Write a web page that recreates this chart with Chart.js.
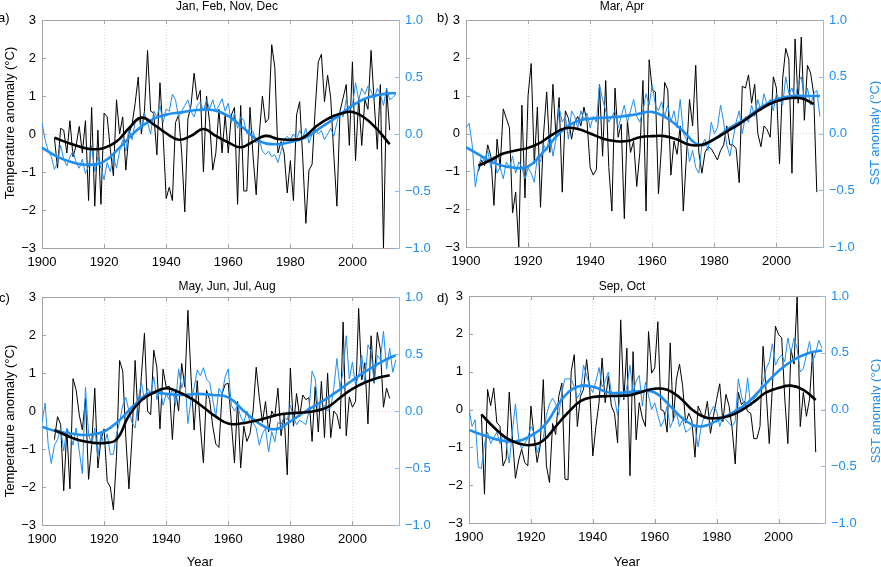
<!DOCTYPE html>
<html lang="en">
<head>
<meta charset="UTF-8">
<title>Temperature and SST anomalies</title>
<script src="https://cdn.jsdelivr.net/npm/chart.js"></script>
<style>
  body { margin: 0; background: #fff; }
  #page { position: relative; width: 881px; height: 567px; overflow: hidden;
          font-family: 'Liberation Sans', Arial, sans-serif; color: #000; }
  canvas { position: absolute; }
  .txt { position: absolute; white-space: nowrap; line-height: 15px; }
  .title { font-size: 12px; transform: translateX(-50%); }
  .letter { font-size: 13px; }
  .ytitle { font-size: 13px; transform: translate(-50%, -50%) rotate(-90deg); }
  .sst { color: #1e8ef0; }
  .xtitle { font-size: 13px; transform: translateX(-50%); }
</style>
</head>
<body>
<div id="page">
  <canvas id="chartA" width="440" height="283" style="left:0;top:0"></canvas>
  <canvas id="chartB" width="441" height="283" style="left:440px;top:0"></canvas>
  <canvas id="chartC" width="440" height="287" style="left:0;top:280px"></canvas>
  <canvas id="chartD" width="441" height="287" style="left:440px;top:280px"></canvas>

  <div class="txt title" style="left:227px;top:-1px">Jan, Feb, Nov, Dec</div>
  <div class="txt title" style="left:622px;top:-1px">Mar, Apr</div>
  <div class="txt title" style="left:227px;top:279px">May, Jun, Jul, Aug</div>
  <div class="txt title" style="left:622px;top:279px">Sep, Oct</div>

  <div class="txt letter" style="left:-2px;top:10px">a)</div>
  <div class="txt letter" style="left:437px;top:10px">b)</div>
  <div class="txt letter" style="left:-1px;top:290px">c)</div>
  <div class="txt letter" style="left:437px;top:290px">d)</div>

  <div class="txt ytitle" style="left:9px;top:123px">Temperature anomaly (°C)</div>
  <div class="txt ytitle" style="left:9px;top:421px">Temperature anomaly (°C)</div>
  <div class="txt ytitle sst" style="left:874px;top:133px">SST anomaly (°C)</div>
  <div class="txt ytitle sst" style="left:875px;top:411px">SST anomaly (°C)</div>

  <div class="txt xtitle" style="left:200px;top:554px">Year</div>
  <div class="txt xtitle" style="left:627px;top:554px">Year</div>
</div>

<script>
// ---- data ----
// air temperature anomaly (°C), one value per year starting 1904
const tempStart = 1904;
const tempA = [
  -0.1, -0.9, 0.15, 0.1, -0.5, 0.35, -0.6, -0.3, 0.2, -0.5,
  0.35, -1.75, 0.7, -1.9, 0.1, -1.85, 0.55, 0.45, -0.4, -1.1,
  0.9, 0.0, 0.45, -0.95, 0.0, 0.25, 0.8, 1.5, 0.0, 0.6,
  2.2, 0.6, 0.55, -0.55, 1.35, 0.0, -1.7, -1.4, -1.75, 0.3,
  0.5, -0.5, -2.05, 0.4, 0.75, 1.6, 0.9, 1.15, -1.0, 1.0,
  0.3, -0.95, -0.5, 0.65, -0.5, 0.5, -0.5, 0.5, 0.7, -1.85,
  0.75, -1.5, -1.5, 0.7, -0.6, -1.6, 0.0, 1.0, 0.3, 0.4,
  2.35, 1.75, -0.5, -0.2, -0.5, -1.55, -0.7, -1.75, 0.5, 0.85,
  -0.65, -2.35, -0.95, -0.8, 0.65, 1.9, 2.1, 0.85, 1.55, 0.95,
  -0.55, -1.9, 0.6, 0.95, 1.3, -0.3, 1.9, -0.7, 0.95, -0.3,
  0.9, 0.65, 2.2, 0.85, -0.4, 1.3, -3.0, 1.2, 0.1
];
const tempB = [
  -1.0, -0.7, -0.85, -0.3, -0.6, -1.9, -0.15, -0.9, 0.65, 0.4,
  0.15, -2.1, -1.55, -3.0, 0.75, -1.7, 1.0, 1.85, -0.8, 0.7,
  -1.95, 0.0, 1.1, -0.5, 1.3, -0.1, 0.95, -1.55, 0.6, 0.4,
  -0.15, 0.3, 0.45, 0.2, 0.7, 0.3, -0.9, -1.1, -0.95, 1.3,
  -0.6, 1.4, -0.9, -2.05, 1.2, -0.1, 0.25, -2.25, 0.35, -0.5,
  -0.2, -1.4, -0.5, 1.4, -2.05, 1.95, 1.15, 1.1, -1.6, -0.3,
  1.35, 1.15, -1.1, -0.2, -0.55, 0.2, -2.05, -0.6, 0.9, 0.2,
  1.8, -0.5, -1.05, -0.5, -0.35, -0.4, -0.55, -0.7, -0.45, -0.3,
  0.2, -0.3, -0.3, -0.4, -1.3, 1.25, 1.2, 1.55, 0.8, 1.3,
  0.0, -0.35, 0.2, 0.1, -0.1, 1.5, 1.2, -0.8, 1.45, 2.25,
  1.95, -1.05, 2.5, 0.8, 2.55, 0.35, 1.8, 1.6, 1.05, -1.55
];
const tempC = [
  -0.75, -0.15, -0.35, -2.1, -0.5, -2.05, 0.85, 0.55, -0.1, -0.5,
  0.33, -1.8, -0.9, 0.6, -1.5, -0.75, -0.47, -1.85, -2.0, -2.6,
  -1.2, 1.33, 1.05, -0.7, -2.05, -0.7, 1.33, -0.25, 0.9, 2.05,
  0.0, -0.1, 1.6, 1.15, -0.47, 1.1, 0.63, 0.65, -0.75, 0.55,
  0.0, 1.25, 0.63, 2.65, 0.9, -0.5, 0.8, -0.4, -1.37, 0.55,
  0.3, -0.4, -0.87, -0.96, 0.45, 0.7, 0.73, -0.3, -1.37, 0.25,
  -1.5, -0.4, -0.8, -0.6, 0.0, 1.15, 0.35, -0.3, 0.25, -0.55,
  0.0, -0.15, 0.6, -0.65, -0.1, -1.68, 1.13, -0.4, 0.46, -0.15,
  0.42, 0.3, 0.35, -0.8, 0.64, -0.55, 0.78, -0.7, 1.0, -0.7,
  0.0, -0.1, -0.47, 2.34, -0.65, 0.37, 0.1, 0.25, 2.7, 0.82,
  1.27, -0.34, 1.98, 0.73, 2.07, 1.62, 0.1, 0.6, 0.33
];
const tempD = [
  -0.13, -2.24, 0.53, 0.1, 0.57, -0.35, -0.44, -1.49, -1.3, 0.46,
  -0.7, -1.82, -1.36, -1.05, -1.4, -1.49, 0.09, -0.7, -1.4, -0.96,
  0.79, -1.49, -1.93, -0.37, -0.66, 0.35, 0.7, -1.84, -1.86, 1.0,
  1.45, -0.45, 0.35, 0.53, 1.32, 0.53, -1.23, -0.45, 0.18, 1.36,
  0.18, 0.88, 0.09, -0.1, -0.88, 2.37, 0.26, 1.62, -1.75, 1.53,
  -0.8, 0.18, -0.22, -0.45, 2.06, 0.96, 1.1, 2.32, 0.0, -0.05,
  -0.6, 1.76, -0.3, 0.8, 1.2, 0.63, -0.36, -0.1, -0.3, -1.26,
  0.09, -0.1, -0.25, 0.22, -0.63, -0.15, 0.27, 0.68, -0.32, 0.4,
  0.1, -0.5, -1.44, 0.45, 0.13, 0.22, -0.05, -0.1, -0.77, -0.77,
  -0.45, 1.67, 0.45, -0.9, 0.6, 2.2, 1.98, 1.9, 0.3, -0.9,
  1.6, 1.2, 3.0, -0.45, 0.45, -0.18, 0.27, 1.53, -1.13
];

// sea surface temperature anomaly (°C), one value per year starting 1900
const sstStart = 1900;
const sstA = [
  0.1, -0.05, -0.15, -0.2, -0.31, -0.25, -0.1, -0.22, -0.28, -0.2,
  -0.15, -0.25, -0.3, -0.22, -0.35, -0.28, -0.1, -0.33, -0.2, -0.3,
  -0.4, -0.25, -0.33, -0.2, -0.3, -0.15, -0.05, -0.15, 0.05, -0.05,
  0.1, 0.15, 0.05, 0.18, 0.1, 0.0, 0.2, 0.15, 0.25, 0.1,
  0.22, 0.2, 0.35, 0.3, 0.15, 0.2, 0.25, 0.3, 0.2, 0.15,
  0.25, 0.28, 0.2, 0.3, 0.22, 0.3, 0.2, 0.25, 0.31, 0.2,
  0.27, 0.1, 0.18, 0.05, 0.15, 0.12, 0.0, 0.05, 0.02, -0.08,
  -0.05, -0.15, -0.18, -0.15, -0.2, -0.18, -0.25, -0.15, -0.05, -0.02,
  -0.05, 0.0, -0.05, 0.03, -0.03, 0.05, -0.08, 0.0, 0.05, 0.0,
  0.03, -0.05, 0.0, 0.05, -0.02, 0.1, 0.2, 0.15, 0.3, 0.2,
  0.25, 0.45, 0.3, 0.4, 0.35, 0.42, 0.38, 0.3, 0.4, 0.35,
  0.25, 0.4, 0.3, 0.32, 0.35
];
const sstB = [
  0.05, 0.09, -0.1, -0.47, -0.3, -0.2, -0.25, -0.15, -0.3, -0.2,
  -0.35, -0.3, -0.4, -0.25, -0.3, -0.2, -0.35, -0.25, -0.3, -0.4,
  -0.3, -0.35, -0.43, -0.2, -0.25, -0.1, -0.15, 0.0, -0.2, -0.05,
  0.23, 0.1, 0.15, -0.05, 0.2, 0.15, 0.05, 0.2, 0.12, 0.18,
  0.05, 0.15, 0.1, 0.43, 0.3, 0.2, 0.1, 0.15, 0.2, 0.05,
  0.15, 0.25, 0.1, 0.2, 0.3, 0.15, 0.1, 0.2, 0.35, 0.25,
  0.43, 0.25, 0.2, 0.28, 0.15, 0.25, 0.1, 0.2, 0.05, 0.3,
  0.0, -0.05, -0.25, -0.15, -0.3, -0.35, -0.1, -0.05, -0.15, 0.1,
  0.0, 0.05, 0.25, 0.1, -0.1, -0.2, -0.05, 0.1, 0.2, 0.0,
  0.15, 0.1, 0.25, 0.15, 0.3, 0.2, 0.35, 0.25, 0.3, 0.2,
  0.35, 0.3, 0.25, 0.5, 0.35, 0.4, 0.3, 0.45, 0.5, 0.3,
  0.4, 0.25, 0.35, 0.38, 0.15
];
const sstC = [
  -0.1, 0.07, -0.3, -0.46, -0.3, -0.25, -0.15, -0.35, -0.15, -0.2,
  -0.3, -0.15, -0.35, -0.55, 0.21, -0.2, -0.3, -0.15, -0.4, -0.2,
  -0.3, -0.2, -0.38, -0.38, -0.2, -0.1, 0.05, 0.12, 0.0, -0.1,
  -0.15, 0.1, 0.25, 0.1, 0.2, 0.15, 0.3, 0.1, 0.2, 0.05,
  0.15, 0.1, 0.2, 0.05, 0.37, 0.2, 0.3, -0.11, 0.1, 0.2,
  0.36, 0.31, 0.38, 0.28, 0.25, 0.1, -0.05, 0.2, 0.15, 0.3,
  0.37, 0.05, 0.0, 0.05, -0.05, -0.1, 0.0, -0.1, -0.1, -0.15,
  -0.3, -0.2, -0.15, -0.36, -0.18, -0.27, -0.1, -0.12, -0.05, -0.08,
  0.05, -0.05, -0.12, -0.08, -0.1, -0.12, 0.0, 0.35, 0.28, 0.0,
  0.02, 0.05, 0.0, 0.03, 0.2, 0.46, 0.2, 0.35, 0.66, 0.28,
  0.43, 0.22, 0.31, 0.49, 0.25, 0.58, 0.52, 0.25, 0.49, 0.45,
  0.7, 0.37, 0.55, 0.34, 0.45
];
const sstD = [
  0.0, -0.15, -0.09, -0.51, -0.52, -0.3, -0.2, -0.3, -0.25, -0.2,
  -0.3, -0.22, -0.3, -0.47, -0.2, 0.05, -0.25, -0.35, -0.3, -0.25,
  -0.15, -0.2, -0.38, -0.3, -0.25, -0.05, 0.05, 0.1, 0.05, -0.05,
  0.15, 0.27, 0.27, 0.27, 0.2, 0.1, 0.15, 0.39, 0.3, 0.2,
  0.15, 0.25, 0.37, 0.2, 0.25, 0.33, 0.15, 0.1, -0.05, 0.15,
  0.1, 0.2, 0.39, 0.15, 0.25, 0.3, 0.03, 0.24, 0.12, 0.0,
  0.06, -0.05, -0.15, -0.09, 0.03, -0.16, -0.09, -0.03, -0.15, -0.09,
  -0.2, -0.18, -0.15, -0.15, -0.33, -0.15, -0.06, -0.09, -0.03, 0.03,
  -0.015, -0.15, -0.06, -0.09, -0.12, -0.15, -0.1, 0.27, 0.12, 0.03,
  0.28, 0.03, 0.09, 0.12, 0.18, 0.24, 0.36, 0.42, 0.58, 0.39,
  0.45, 0.48, 0.42, 0.63, 0.5, 0.63, 0.54, 0.33, 0.36, 0.48,
  0.6, 0.42, 0.5, 0.61, 0.54
];

// smoothed curves, read at knot years
const tempKnotYears = [1904, 1908, 1912, 1916, 1920, 1924, 1928, 1932, 1936, 1940,
  1944, 1948, 1952, 1956, 1960, 1964, 1968, 1972, 1976, 1980,
  1984, 1988, 1992, 1996, 2000, 2004, 2008, 2012];
const tempSmoothA = [-0.1, -0.22, -0.33, -0.4, -0.37, -0.2, 0.15, 0.43, 0.25, 0.02,
  -0.15, -0.05, 0.13, -0.05, -0.22, -0.35, -0.2, -0.05, -0.13, -0.15,
  -0.1, 0.18, 0.4, 0.53, 0.58, 0.42, 0.12, -0.27];
const tempSmoothB = [-0.85, -0.7, -0.53, -0.45, -0.38, -0.24, -0.02, 0.14, 0.12, 0.0,
  -0.13, -0.2, -0.2, -0.1, -0.07, -0.07, -0.16, -0.3, -0.3, -0.15,
  0.05, 0.25, 0.48, 0.7, 0.85, 0.93, 0.93, 0.78];
const tempSmoothC = [-0.5, -0.65, -0.77, -0.83, -0.84, -0.75, -0.12, 0.28, 0.48, 0.6,
  0.5, 0.33, 0.1, -0.15, -0.33, -0.33, -0.27, -0.19, -0.1, -0.06,
  -0.04, 0.0, 0.1, 0.35, 0.58, 0.75, 0.87, 0.94];
const tempSmoothD = [-0.13, -0.47, -0.75, -0.9, -0.94, -0.82, -0.45, -0.08, 0.22, 0.33,
  0.35, 0.36, 0.38, 0.47, 0.55, 0.52, 0.32, 0.0, -0.2, -0.23,
  -0.17, -0.02, 0.2, 0.45, 0.57, 0.63, 0.52, 0.25];

const sstKnotYears = [1900, 1905, 1910, 1915, 1920, 1925, 1930, 1935, 1940, 1945,
  1950, 1955, 1960, 1965, 1970, 1975, 1980, 1985, 1990, 1995,
  2000, 2005, 2010, 2014];
const sstSmoothA = [-0.12, -0.2, -0.25, -0.27, -0.24, -0.12, 0.02, 0.12, 0.17, 0.19,
  0.21, 0.21, 0.16, 0.05, -0.06, -0.09, -0.07, -0.03, 0.06, 0.15,
  0.25, 0.32, 0.35, 0.36];
const sstSmoothB = [-0.12, -0.2, -0.27, -0.3, -0.29, -0.16, 0.0, 0.1, 0.13, 0.14,
  0.15, 0.17, 0.19, 0.13, 0.02, -0.1, -0.05, 0.05, 0.13, 0.23,
  0.3, 0.33, 0.33, 0.33];
const sstSmoothC = [-0.14, -0.18, -0.2, -0.21, -0.18, -0.08, 0.06, 0.16, 0.15, 0.14,
  0.15, 0.14, 0.12, 0.0, -0.11, -0.16, -0.09, 0.0, 0.08, 0.17,
  0.27, 0.36, 0.44, 0.49];
const sstSmoothD = [-0.18, -0.23, -0.27, -0.28, -0.23, -0.12, 0.09, 0.2, 0.2, 0.15,
  0.15, 0.16, 0.15, 0.03, -0.1, -0.15, -0.1, -0.03, 0.06, 0.2,
  0.34, 0.44, 0.5, 0.52];

// ---- look ----
const blue = '#1e8ef0';
const blueAxis = '#8cbcec';
const greyAxis = '#a3a3a3';
Chart.defaults.font.family = "'Liberation Sans', Arial, sans-serif";
Chart.defaults.font.size = 13;
Chart.defaults.color = '#000';

function yearly(start, values) {
    return values.map((v, i) => ({ x: start + i, y: v }));
}
function knots(years, values) {
    return years.map((yr, i) => ({ x: yr, y: values[i] }));
}
function minus(v, digits) {
    const s = digits ? Math.abs(v).toFixed(digits) : String(Math.abs(v));
    return v < 0 ? '\u2212' + s : s;
}

// box on top + inward tick marks, like the original figure
const frame = {
    id: 'frame',
    afterDraw(chart) {
        const { ctx, chartArea: a, scales } = chart;
        const len = 4;
        ctx.save();
        ctx.lineWidth = 1;
        ctx.strokeStyle = greyAxis;
        ctx.beginPath();
        ctx.moveTo(a.left, a.top + 0.5);
        ctx.lineTo(a.right, a.top + 0.5);
        scales.x.ticks.forEach(t => {
            const x = Math.round(scales.x.getPixelForValue(t.value)) + 0.5;
            ctx.moveTo(x, a.bottom); ctx.lineTo(x, a.bottom - len);
            ctx.moveTo(x, a.top); ctx.lineTo(x, a.top + len);
        });
        scales.y.ticks.forEach(t => {
            const y = Math.round(scales.y.getPixelForValue(t.value)) + 0.5;
            ctx.moveTo(a.left, y); ctx.lineTo(a.left + len, y);
        });
        ctx.stroke();
        ctx.strokeStyle = blueAxis;
        ctx.beginPath();
        scales.y1.ticks.forEach(t => {
            const y = Math.round(scales.y1.getPixelForValue(t.value)) + 0.5;
            ctx.moveTo(a.right, y); ctx.lineTo(a.right - len, y);
        });
        ctx.stroke();
        ctx.restore();
    }
};

function drawPanel(id, temp, sst, tempSmooth, sstSmooth, box) {
    const canvas = document.getElementById(id);
    new Chart(canvas.getContext('2d'), {
        type: 'line',
        data: {
            datasets: [
                { data: knots(tempKnotYears, tempSmooth), yAxisID: 'y', borderColor: '#000',
                  borderWidth: 2.6, tension: 0.45 },
                { data: knots(sstKnotYears, sstSmooth), yAxisID: 'y1', borderColor: blue,
                  borderWidth: 2.6, tension: 0.45 },
                { data: yearly(sstStart, sst), yAxisID: 'y1', borderColor: blue, borderWidth: 1 },
                { data: yearly(tempStart, temp), yAxisID: 'y', borderColor: '#000', borderWidth: 1 }
            ]
        },
        options: {
            responsive: false,
            animation: false,
            parsing: false,
            elements: { point: { radius: 0 }, line: { tension: 0, fill: false } },
            layout: { padding: { top: box.top, left: 0, right: 0, bottom: 0 } },
            plugins: { legend: { display: false }, tooltip: { enabled: false } },
            scales: {
                x: {
                    type: 'linear', min: 1900, max: 2015,
                    afterBuildTicks: s => { s.ticks = s.ticks.filter(t => t.value % 20 === 0); },
                    afterFit: s => { s.height = box.xh; },
                    ticks: { stepSize: 20, padding: 7, maxRotation: 0, autoSkip: false,
                             callback: v => String(v) },
                    grid: { color: 'rgba(0,0,0,0.13)', drawTicks: false },
                    border: { color: greyAxis, dash: [1, 2] }
                },
                y: {
                    position: 'left', min: -3, max: 3,
                    afterFit: s => { s.width = box.left; },
                    ticks: { stepSize: 1, padding: 6, callback: v => minus(v) },
                    grid: { drawTicks: false,
                            color: c => c.tick && c.tick.value === 0 ? 'rgba(0,0,0,0.16)' : 'rgba(0,0,0,0)' },
                    border: { color: greyAxis, dash: [1, 2] }
                },
                y1: {
                    position: 'right', min: -1, max: 1,
                    afterFit: s => { s.width = box.right; },
                    ticks: { stepSize: 0.5, padding: 6, color: blue, callback: v => minus(v, 1) },
                    grid: { drawOnChartArea: false, drawTicks: false },
                    border: { color: blueAxis }
                }
            }
        },
        plugins: [frame]
    });
}

drawPanel('chartA', tempA, sstA, tempSmoothA, sstSmoothA, { top: 20, xh: 35, left: 42, right: 41 });
drawPanel('chartB', tempB, sstB, tempSmoothB, sstSmoothB, { top: 20, xh: 36, left: 26, right: 58 });
drawPanel('chartC', tempC, sstC, tempSmoothC, sstSmoothC, { top: 17, xh: 42, left: 42, right: 41 });
drawPanel('chartD', tempD, sstD, tempSmoothD, sstSmoothD, { top: 16, xh: 44, left: 29, right: 56 });
</script>
</body>
</html>
